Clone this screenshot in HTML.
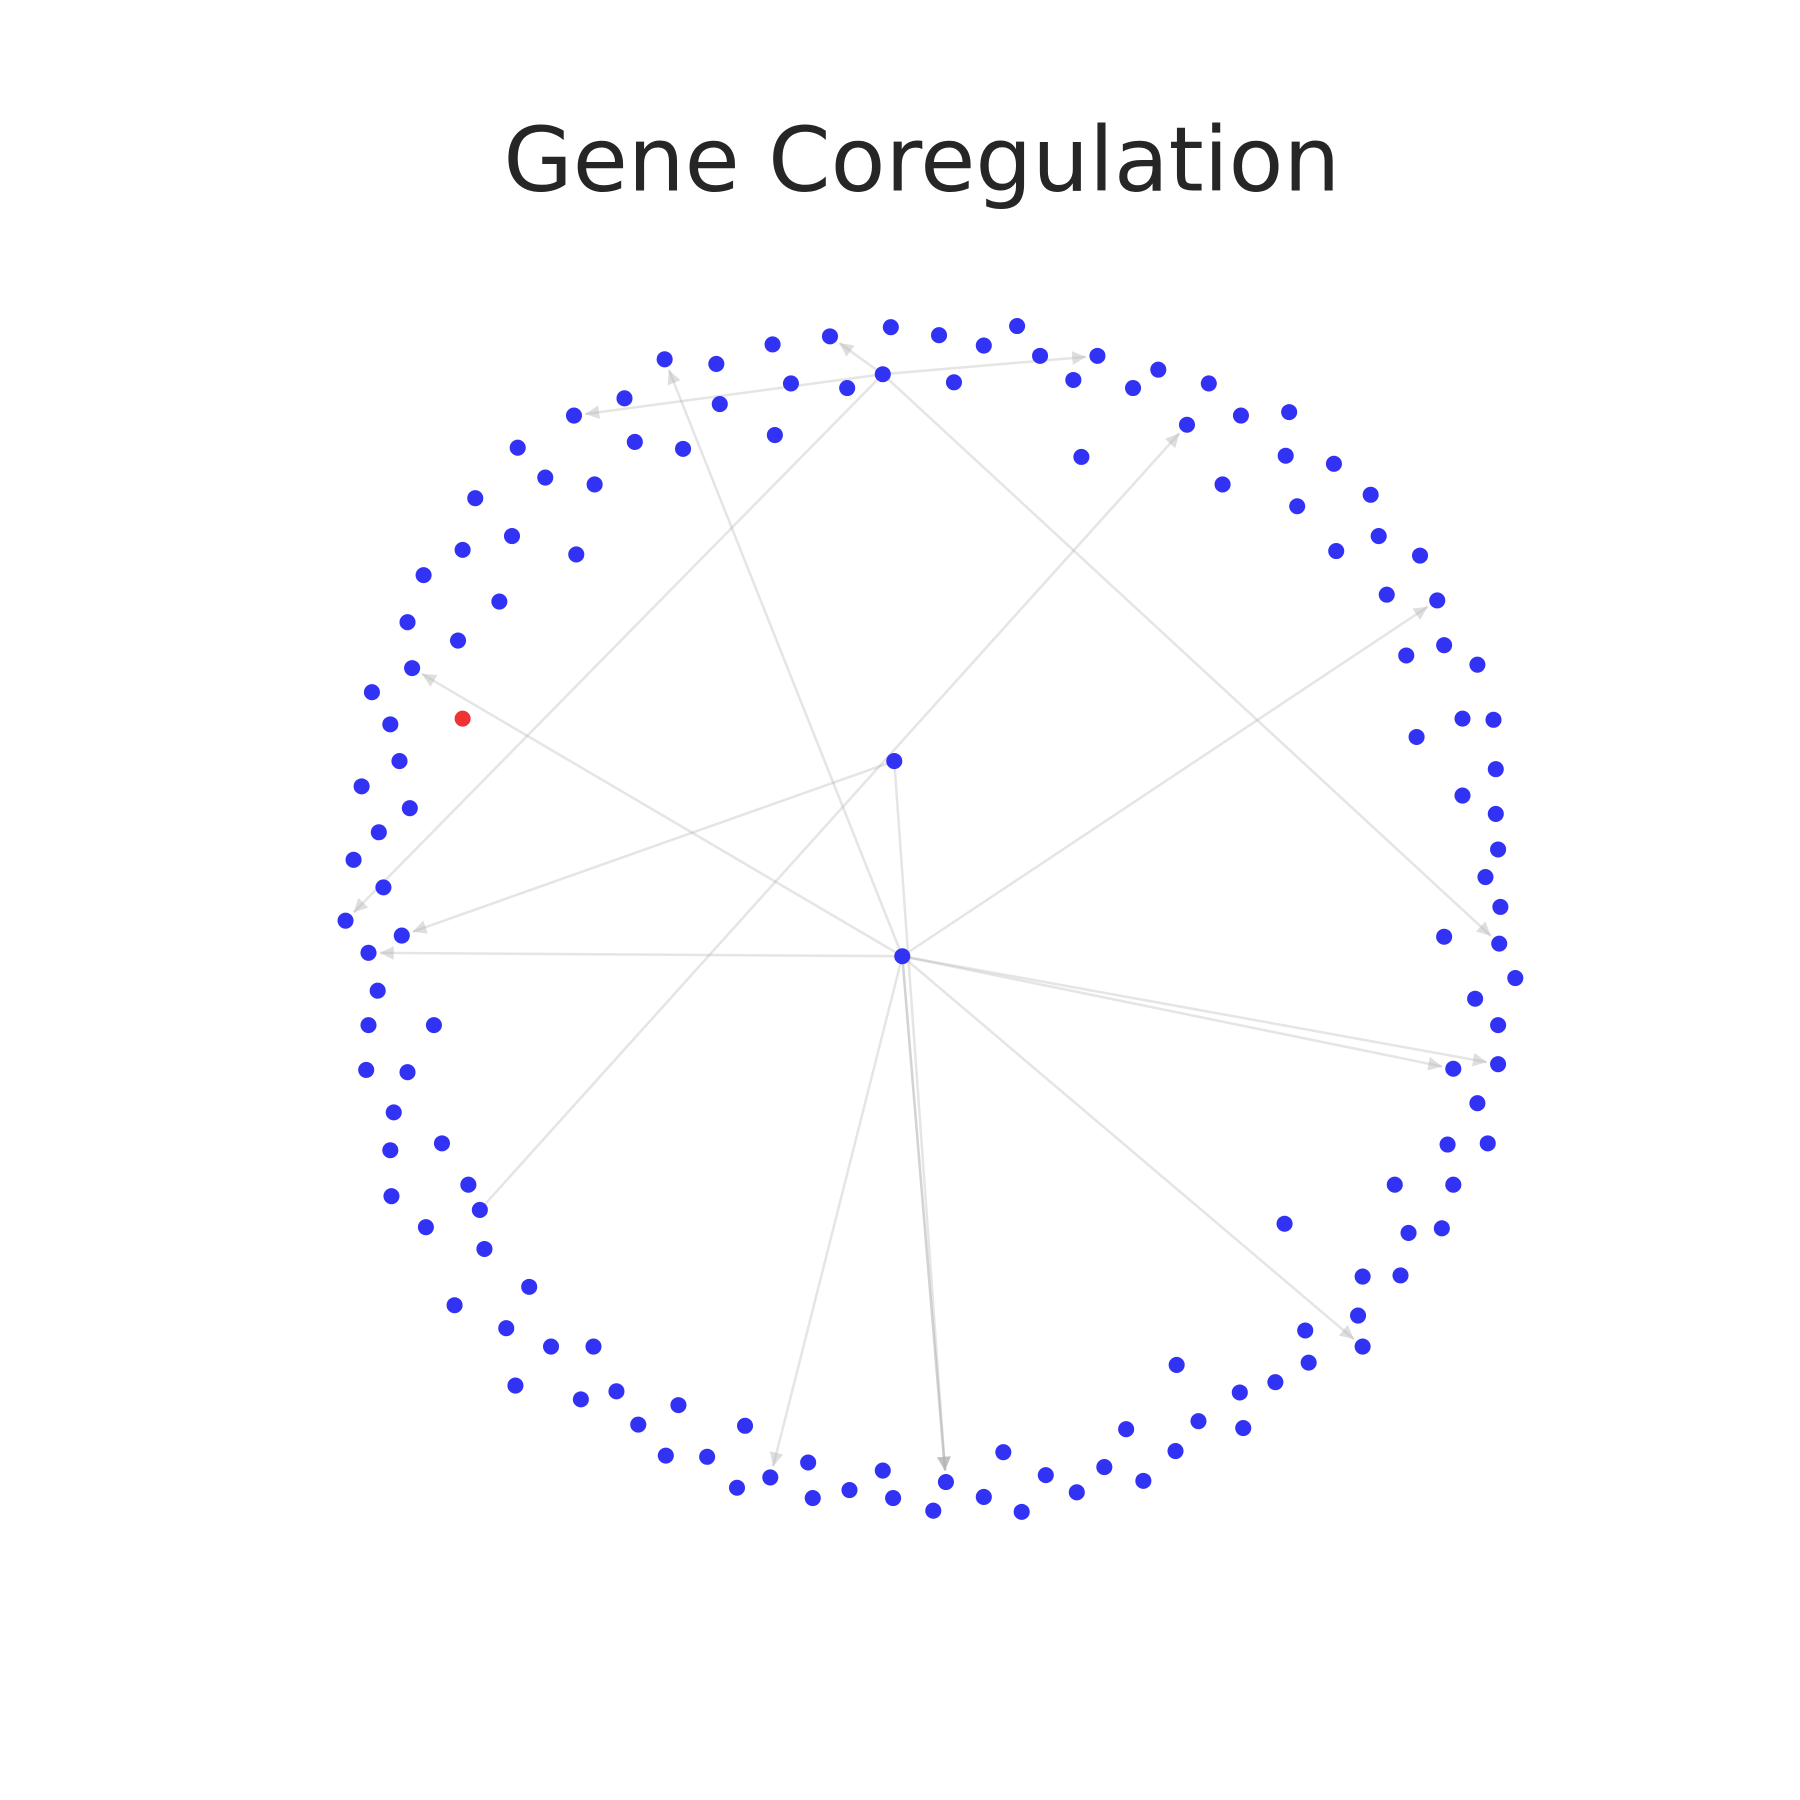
<!DOCTYPE html>
<html>
<head>
<meta charset="utf-8">
<style>
  html,body{margin:0;padding:0;background:#fff;}
  svg{display:block;}
</style>
</head>
<body>
<svg id="chart" width="1800" height="1800" viewBox="0 0 1568 1568" xmlns="http://www.w3.org/2000/svg">
  <defs>
    <marker id="arrow" viewBox="0 0 10 10" refX="10" refY="5" markerWidth="14" markerHeight="12" markerUnits="userSpaceOnUse" orient="auto">
      <path d="M0,0 L10,5 L0,10 z" fill="#b5b5b5" fill-opacity="0.45"/>
    </marker>
  </defs>
  <rect x="0" y="0" width="1568" height="1568" fill="#ffffff"/>
  <text x="803" y="166" text-anchor="middle" font-family="DejaVu Sans, Liberation Sans, sans-serif" font-size="78" fill="#262626">Gene Coregulation</text>
  <g id="edges"></g>
  <g id="nodes"></g>
</svg>
<script>
const nodeX = [579,624,673,723,776,818,857,886,906,956,935,987,1009,1053,1081,1123,1120,1162,1194,1130,1065,1034,942,831,769,738,689,627,544,500,553,595,675,451,475,518,414,446,403,502,369,435,355,399,359,324,340,403,348,315,357,330,308,334,301,350,321,329,321,378,319,355,343,340,385,341,408,418,371,422,461,396,441,480,517,449,506,537,591,556,649,580,616,642,671,704,708,740,769,778,813,824,857,874,890,911,938,962,981,996,1024,1044,1025,1080,1083,1111,1140,1137,1187,1183,1119,1187,1220,1227,1256,1266,1215,1261,1296,1287,1266,1305,1305,1285,1320,1306,1258,1307,1294,1305,1303,1274,1303,1234,1274,1301,1287,1225,1258,1252,1208,1237,1201,1164,779,786];
const nodeY = [313,317,300,293,285,292,301,284,310,310,331,338,322,334,362,359,397,404,431,441,422,370,398,333,326,338,334,352,347,362,385,391,379,390,416,422,434,467,479,483,501,524,542,558,582,603,631,626,663,685,704,725,749,773,802,815,830,863,893,893,932,934,969,1002,996,1042,1032,1054,1069,1088,1121,1137,1157,1173,1173,1207,1219,1212,1224,1241,1242,1268,1269,1296,1287,1274,1305,1298,1281,1305,1316,1291,1304,1265,1317,1285,1300,1278,1245,1290,1264,1238,1189,1213,1244,1204,1187,1159,1173,1146,1066,1112,1111,1074,1070,1032,1032,997,996,961,931,927,893,870,852,822,816,790,764,740,709,693,670,642,626,627,579,571,562,523,518,484,467,480,663,833];
const redIndex = 47;
// edges as [from index, to index]
const edgeFrom = [145,145,145,145,145,145,145,145,145,145,144,144,67,24,24,24,24,24];
const edgeTo   = [0,44,56,84,91,91,108,120,121,139,55,91,21,54,3,125,29,9];

const NS = "http://www.w3.org/2000/svg";
const R = 7;
const eg = document.getElementById('edges');
const ng = document.getElementById('nodes');

for (let i = 0; i < edgeFrom.length; i++) {
  const x1 = nodeX[edgeFrom[i]], y1 = nodeY[edgeFrom[i]];
  const x2 = nodeX[edgeTo[i]], y2 = nodeY[edgeTo[i]];
  const d = Math.hypot(x2 - x1, y2 - y1);
  const ex = x2 - (x2 - x1) / d * (R + 3);
  const ey = y2 - (y2 - y1) / d * (R + 3);
  const ln = document.createElementNS(NS, 'line');
  ln.setAttribute('x1', x1);
  ln.setAttribute('y1', y1);
  ln.setAttribute('x2', ex);
  ln.setAttribute('y2', ey);
  ln.setAttribute('stroke', '#a8a8a8');
  ln.setAttribute('stroke-opacity', '0.3');
  ln.setAttribute('stroke-width', '2.2');
  ln.setAttribute('marker-end', 'url(#arrow)');
  
  
  eg.appendChild(ln);
}

for (let i = 0; i < nodeX.length; i++) {
  const c = document.createElementNS(NS, 'circle');
  c.setAttribute('cx', nodeX[i]);
  c.setAttribute('cy', nodeY[i]);
  c.setAttribute('r', R);
  c.setAttribute('fill', i === redIndex ? '#f03232' : '#3232f5');
  
  
  ng.appendChild(c);
}
</script>
</body>
</html>
